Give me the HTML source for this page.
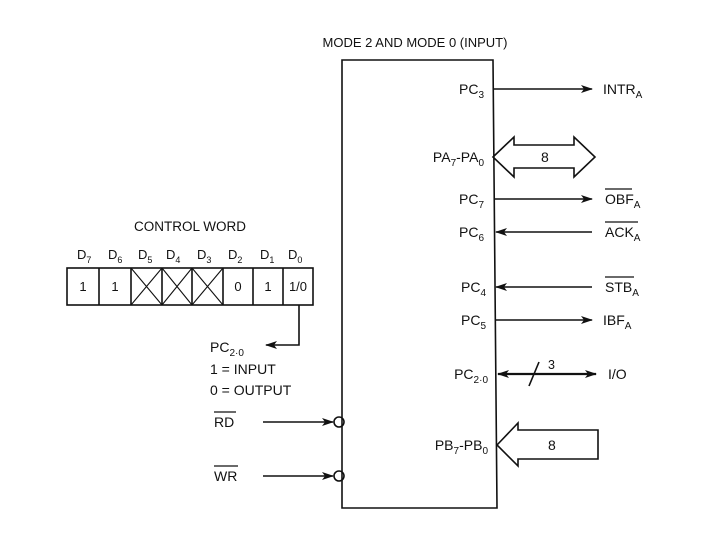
<!DOCTYPE html>
<html><head><style>body{margin:0;background:#fff}svg{display:block}text{font-family:"Liberation Sans",sans-serif;fill:#111}</style></head><body>
<svg width="720" height="540" viewBox="0 0 720 540" xmlns="http://www.w3.org/2000/svg">
<defs><marker id="a" markerWidth="12" markerHeight="8" refX="11" refY="4" orient="auto-start-reverse" markerUnits="userSpaceOnUse"><path d="M0,0 L12,4 L0,8 L3,4 Z" fill="#111"/></marker></defs>
<g stroke="#111" stroke-width="1.6" fill="none">
<path d="M342,60 L493,60 L497,508 L342,508 Z"/>
<line x1="494" y1="89" x2="592" y2="89" marker-end="url(#a)"/>
<path d="M493,157 L514,137 L514,145 L574,145 L574,137 L595,157 L574,177 L574,168 L514,168 L514,177 Z"/>
<line x1="495" y1="199" x2="592" y2="199" marker-end="url(#a)"/>
<line x1="592" y1="232" x2="496" y2="232" marker-end="url(#a)"/>
<line x1="592" y1="287" x2="496" y2="287" marker-end="url(#a)"/>
<line x1="496" y1="320" x2="592" y2="320" marker-end="url(#a)"/>
<line x1="498" y1="374" x2="596" y2="374" marker-end="url(#a)" marker-start="url(#a)" stroke-width="2.2"/>
<line x1="529" y1="386" x2="539" y2="362"/>
<path d="M497,445 L518,423 L518,430 L598,430 L598,459 L518,459 L518,466 Z"/>
<rect x="67" y="268" width="246" height="37"/>
<line x1="99" y1="268" x2="99" y2="305"/><line x1="131" y1="268" x2="131" y2="305"/><line x1="162" y1="268" x2="162" y2="305"/><line x1="192" y1="268" x2="192" y2="305"/><line x1="223" y1="268" x2="223" y2="305"/><line x1="253" y1="268" x2="253" y2="305"/><line x1="283" y1="268" x2="283" y2="305"/>
<path d="M131,268 L162,305 M162,268 L131,305 M162,268 L192,305 M192,268 L162,305 M192,268 L223,305 M223,268 L192,305" stroke-width="1.1"/>
<polyline points="299,305 299,345 266,345" marker-end="url(#a)"/>
<line x1="263" y1="422" x2="333" y2="422" marker-end="url(#a)"/>
<circle cx="339" cy="422" r="5"/>
<line x1="263" y1="476" x2="333" y2="476" marker-end="url(#a)"/>
<circle cx="339" cy="476" r="5"/>
<line x1="214" y1="412" x2="236" y2="412" stroke-width="1.2"/>
<line x1="214" y1="466" x2="238" y2="466" stroke-width="1.2"/>
<line x1="605" y1="189" x2="632" y2="189" stroke-width="1.2"/>
<line x1="605" y1="222" x2="638" y2="222" stroke-width="1.2"/>
<line x1="605" y1="277" x2="634" y2="277" stroke-width="1.2"/>
</g>
<g font-size="14">
<text x="415" y="47" text-anchor="middle" font-size="13">MODE 2 AND MODE 0 (INPUT)</text>
<text x="190" y="231" text-anchor="middle" font-size="13.5">CONTROL WORD</text>
<text x="484" y="94" text-anchor="end">PC<tspan font-size="10" dy="4">3</tspan></text>
<text x="603" y="94">INTR<tspan font-size="10" dy="4">A</tspan></text>
<text x="484" y="162" text-anchor="end">PA<tspan font-size="10" dy="4">7</tspan><tspan dy="-4">-PA</tspan><tspan font-size="10" dy="4">0</tspan></text>
<text x="541" y="162">8</text>
<text x="484" y="204" text-anchor="end">PC<tspan font-size="10" dy="4">7</tspan></text>
<text x="605" y="204">OBF<tspan font-size="10" dy="4">A</tspan></text>
<text x="484" y="237" text-anchor="end">PC<tspan font-size="10" dy="4">6</tspan></text>
<text x="605" y="237">ACK<tspan font-size="10" dy="4">A</tspan></text>
<text x="486" y="292" text-anchor="end">PC<tspan font-size="10" dy="4">4</tspan></text>
<text x="605" y="292">STB<tspan font-size="10" dy="4">A</tspan></text>
<text x="486" y="325" text-anchor="end">PC<tspan font-size="10" dy="4">5</tspan></text>
<text x="603" y="325">IBF<tspan font-size="10" dy="4">A</tspan></text>
<text x="488" y="379" text-anchor="end">PC<tspan font-size="10" dy="4">2·0</tspan></text>
<text x="548" y="369" font-size="12.5">3</text>
<text x="608" y="379">I/O</text>
<text x="488" y="450" text-anchor="end">PB<tspan font-size="10" dy="4">7</tspan><tspan dy="-4">-PB</tspan><tspan font-size="10" dy="4">0</tspan></text>
<text x="548" y="450">8</text>
<g font-size="13">
<text x="77" y="259">D<tspan font-size="9" dy="4">7</tspan></text>
<text x="108" y="259">D<tspan font-size="9" dy="4">6</tspan></text>
<text x="138" y="259">D<tspan font-size="9" dy="4">5</tspan></text>
<text x="166" y="259">D<tspan font-size="9" dy="4">4</tspan></text>
<text x="197" y="259">D<tspan font-size="9" dy="4">3</tspan></text>
<text x="228" y="259">D<tspan font-size="9" dy="4">2</tspan></text>
<text x="260" y="259">D<tspan font-size="9" dy="4">1</tspan></text>
<text x="288" y="259">D<tspan font-size="9" dy="4">0</tspan></text>
<text x="83" y="291" text-anchor="middle">1</text>
<text x="115" y="291" text-anchor="middle">1</text>
<text x="238" y="291" text-anchor="middle">0</text>
<text x="268" y="291" text-anchor="middle">1</text>
<text x="298" y="291" text-anchor="middle">1/0</text>
</g>
<text x="210" y="352">PC<tspan font-size="10" dy="4">2·0</tspan></text>
<text x="210" y="374">1 = INPUT</text>
<text x="210" y="395">0 = OUTPUT</text>
<text x="214" y="427">RD</text>
<text x="214" y="481">WR</text>
</g>
</svg>
</body></html>
